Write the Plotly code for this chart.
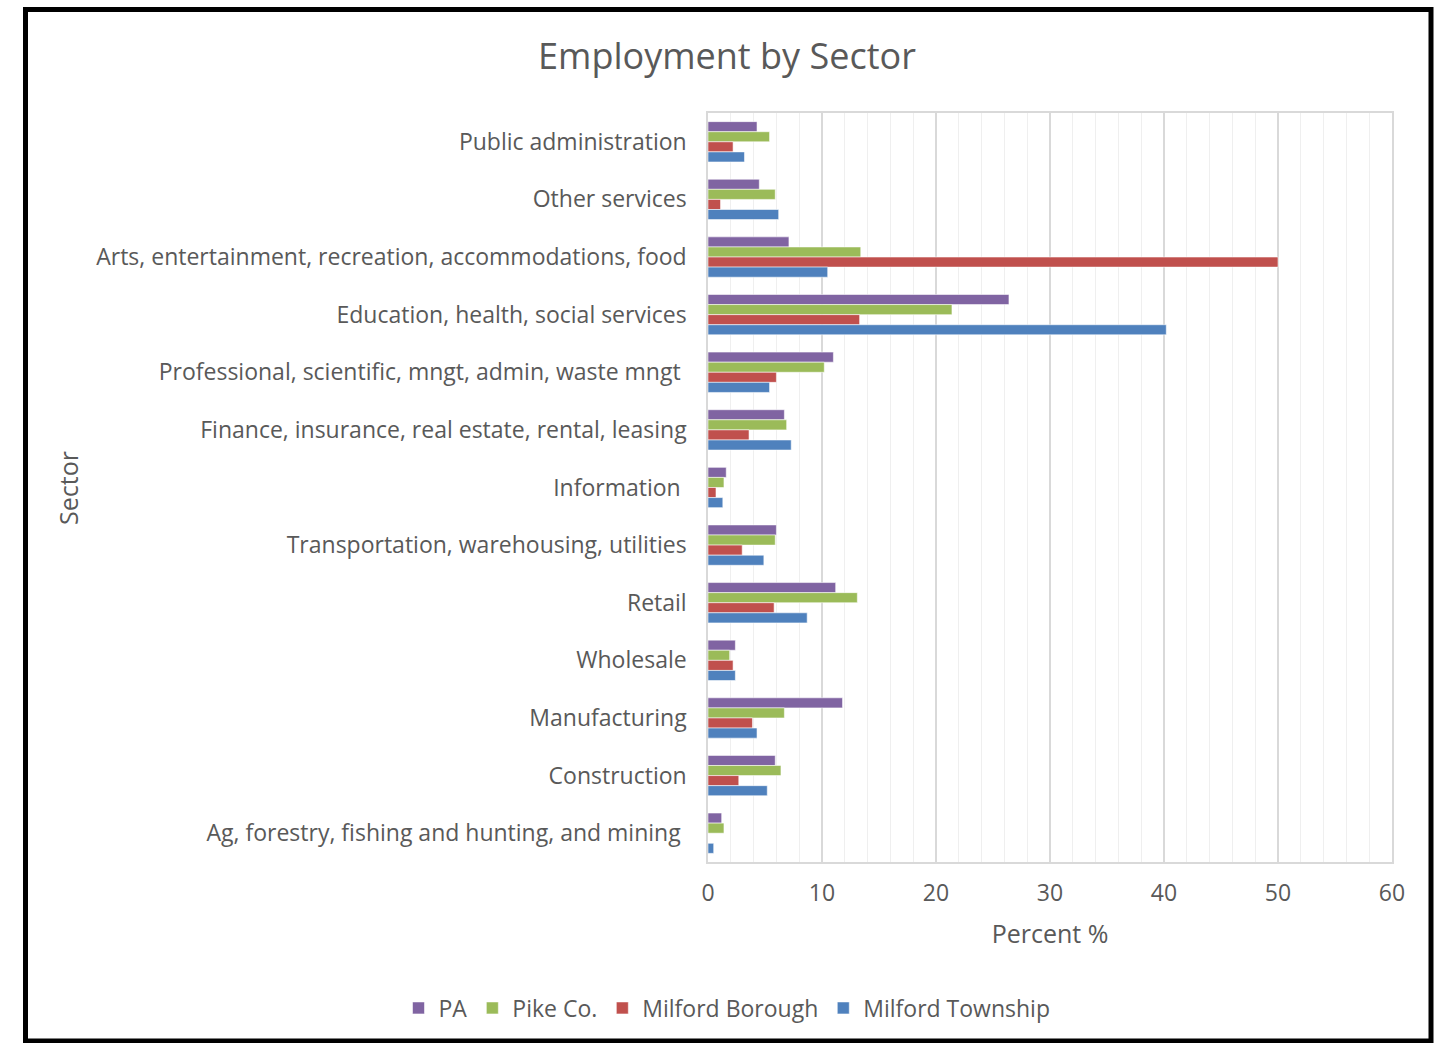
import plotly.graph_objects as go

# Sectors, listed top to bottom as they appear on the chart
sectors = [
    "Public administration",
    "Other services",
    "Arts, entertainment, recreation, accommodations, food",
    "Education, health, social services",
    "Professional, scientific, mngt, admin, waste mngt\u00a0",
    "Finance, insurance, real estate, rental, leasing",
    "Information\u00a0",
    "Transportation, warehousing, utilities",
    "Retail",
    "Wholesale",
    "Manufacturing",
    "Construction",
    "Ag, forestry, fishing and hunting, and mining\u00a0",
]

# Share of employment (%) per sector
pa = [4.3, 4.5, 7.1, 26.4, 11.0, 6.7, 1.6, 6.0, 11.2, 2.4, 11.8, 5.9, 1.2]
pike_co = [5.4, 5.9, 13.4, 21.4, 10.2, 6.9, 1.4, 5.9, 13.1, 1.9, 6.7, 6.4, 1.4]
milford_borough = [2.2, 1.1, 50.0, 13.3, 6.0, 3.6, 0.7, 3.0, 5.8, 2.2, 3.9, 2.7, 0.0]
milford_township = [3.2, 6.2, 10.5, 40.2, 5.4, 7.3, 1.3, 4.9, 8.7, 2.4, 4.3, 5.2, 0.5]

series = [
    ("PA", pa, "#8064A2"),
    ("Pike Co.", pike_co, "#9BBB59"),
    ("Milford Borough", milford_borough, "#C0504D"),
    ("Milford Township", milford_township, "#4F81BD"),
]

FONT = "Open Sans, Liberation Sans, Arial, sans-serif"
TEXT = "#595959"

fig = go.Figure()
for name, vals, color in series:
    fig.add_trace(go.Bar(
        y=sectors, x=vals, name=name, orientation="h",
        marker=dict(color=color, line=dict(color="rgba(255,255,255,0.55)", width=1)),
    ))

W, H = 1447, 1043
L, R, T, B = 708, 55, 113, 181
pw = W - L - R
ph = H - T - B

def px_x(p):
    return (p - L) / pw

def px_y(p):
    return (H - B - p) / ph

fig.update_layout(
    width=W, height=H,
    margin=dict(l=L, r=R, t=T, b=B, pad=0),
    paper_bgcolor="white", plot_bgcolor="white",
    barmode="group", bargap=0.3, bargroupgap=0,
    font=dict(family=FONT, color=TEXT, size=23),
    title=dict(text="Employment by Sector", x=727 / W, xref="container",
               y=1 - 56 / H, yref="container", xanchor="center", yanchor="middle",
               font=dict(size=36, color=TEXT, family=FONT)),
    showlegend=True,
    legend=dict(orientation="h", x=px_x(727), xanchor="center",
                y=px_y(1008), yanchor="middle",
                font=dict(size=23, color=TEXT), itemwidth=30,
                bgcolor="rgba(0,0,0,0)"),
    xaxis=dict(
        range=[0, 60], dtick=10, tick0=0,
        showgrid=True, gridcolor="#D9D9D9", gridwidth=1.5,
        minor=dict(dtick=2, showgrid=True, gridcolor="#EFEFEF", gridwidth=1),
        showline=True, linecolor="#D9D9D9", linewidth=1.5, mirror=True,
        zeroline=False, ticks="", ticklabelstandoff=10,
        tickfont=dict(size=23, color=TEXT),
        title=dict(text="Percent %", font=dict(size=25, color=TEXT), standoff=18),
        fixedrange=True,
    ),
    yaxis=dict(
        autorange="reversed", type="category",
        showline=True, linecolor="#D9D9D9", linewidth=1.5, mirror=True,
        showgrid=False, ticks="", ticklabelstandoff=15,
        tickfont=dict(size=23, color=TEXT),
        fixedrange=True,
    ),
    annotations=[dict(
        text="Sector", textangle=-90, showarrow=False,
        xref="paper", yref="paper", x=px_x(68), y=px_y(488),
        xanchor="center", yanchor="middle",
        font=dict(size=25, color=TEXT),
    )],
    shapes=[dict(
        type="rect", xref="paper", yref="paper",
        x0=px_x(25.5), x1=px_x(1431), y0=px_y(1041), y1=px_y(9.5),
        line=dict(color="black", width=5), fillcolor="rgba(0,0,0,0)", layer="above",
    )],
)

fig.write_html("out.html")
